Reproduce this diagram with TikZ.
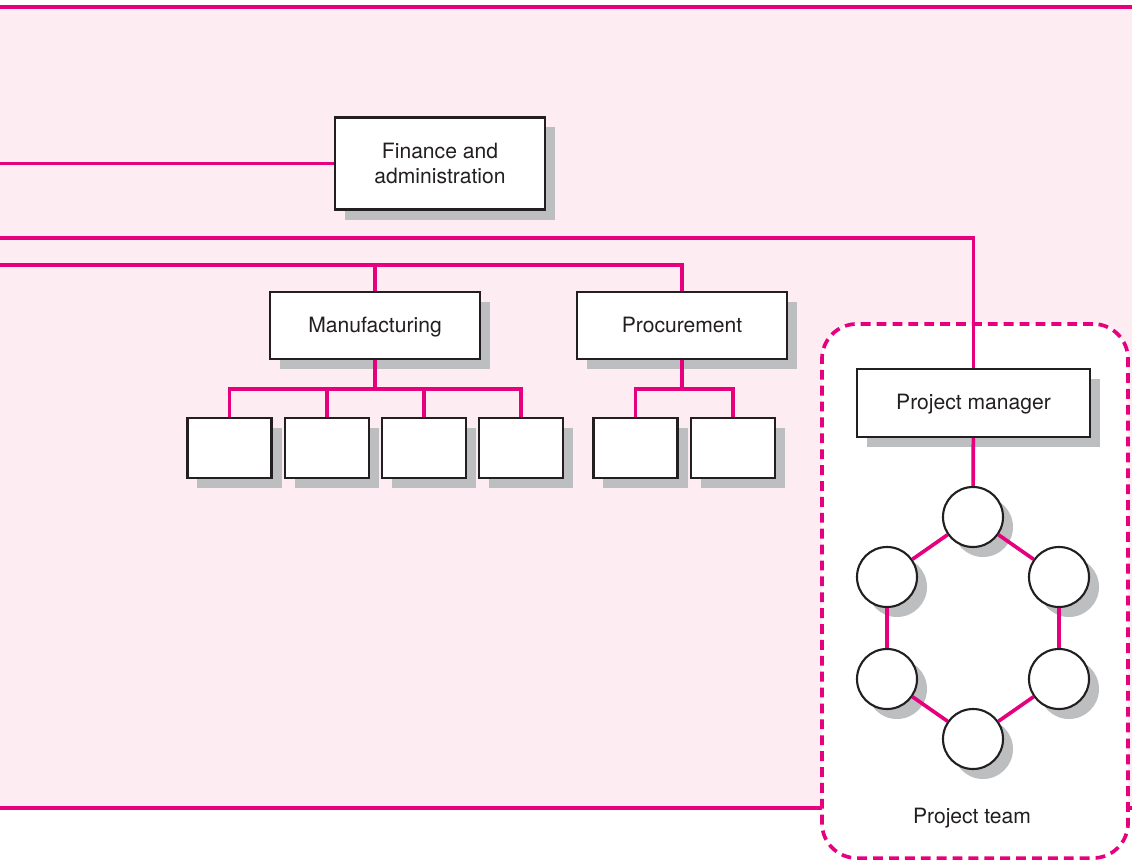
\documentclass[tikz,border=0pt]{standalone}
\usepackage{fontspec}
\setmainfont{TeX Gyre Heros}
\usetikzlibrary{shadows}
\definecolor{linkpink}{RGB}{230,0,126}
\definecolor{bgpink}{RGB}{253,237,243}
\definecolor{shade}{RGB}{188,190,192}
\definecolor{txtgrey}{RGB}{35,31,32}
\tikzset{
  orgbox/.style={draw=txtgrey, fill=white, line width=1.5pt, text=txtgrey,
    font=\fontsize{15}{18.4}\selectfont, align=center,
    drop shadow={shadow xshift=0.25cm, shadow yshift=-0.25cm, fill=shade, opacity=1}},
  dept/.style={orgbox, minimum width=5.25cm, minimum height=1.675cm},
  oneline/.style={text height=1.2em, text depth=0.25em},
  subunit/.style={orgbox, minimum width=2.1cm, minimum height=1.5cm},
  member/.style={orgbox, circle, minimum size=1.5cm, inner sep=0pt},
  link/.style={draw=linkpink, line width=2.6pt},
}
\begin{document}
\begin{tikzpicture}[x=0.025cm, y=-0.025cm]
\useasboundingbox (0,0) rectangle (1132,862);

\fill[bgpink] (0,7) rectangle (1132,808);  %fondo
\draw[link] (0,7) -- (1132,7);
\draw[link] (0,808) -- (1132,808);

% equipo de proyecto
\node[draw=linkpink, fill=white, line width=2.6pt, dash pattern=on 7pt off 4.3pt,
  rounded corners=0.875cm, minimum width=7.65cm, minimum height=13.35cm] (team) at (975,591) {};
\node[text=txtgrey, font=\fontsize{15}{18.4}\selectfont] (teamlbl) at (972,818) {Project team};

\coordinate (w1) at (0,163.5);
\coordinate (w2) at (0,238);
\coordinate (w3) at (0,265);

\node[dept, minimum height=2.3cm] (fin) at (440,163.5) {Finance and\\administration};
\node[dept, oneline] (mfg) at (375,325.5) {Manufacturing};
\node[dept, oneline] (proc) at (682,325.5) {Procurement};
\node[dept, oneline, minimum width=5.825cm, minimum height=1.7cm] (pm) at (973.5,403) {Project manager};

\foreach \x [count=\i] in {229.5,327,424,521}
  \node[subunit] (m\i) at (\x,448) {};
\foreach \x [count=\i] in {635.5,733}
  \node[subunit] (p\i) at (\x,448) {};

\foreach \n/\x/\y in {c1/973/517, c2/1059/577, c3/1059/679, c4/973/739, c5/887/679, c6/887/577}
  \node[member] (\n) at (\x,\y) {};

% conexiones
\draw[link] (w1) -- (fin.west);
\draw[link] (w2) -| (pm.north);
\draw[link] (w3) -| (proc.north);
\draw[link] (mfg.north) -- (mfg.north |- w3);
\foreach \i in {1,...,4}
  \draw[link] (mfg.south) -- ++(0,29) -| (m\i.north);
\foreach \i in {1,2}
  \draw[link] (proc.south) -- ++(0,29) -| (p\i.north);
\draw[link] (pm) -- (c1);
\foreach \a/\b in {c1/c2, c2/c3, c3/c4, c4/c5, c5/c6, c6/c1}
  \draw[link] (\a) -- (\b);

\end{tikzpicture}
\end{document}
